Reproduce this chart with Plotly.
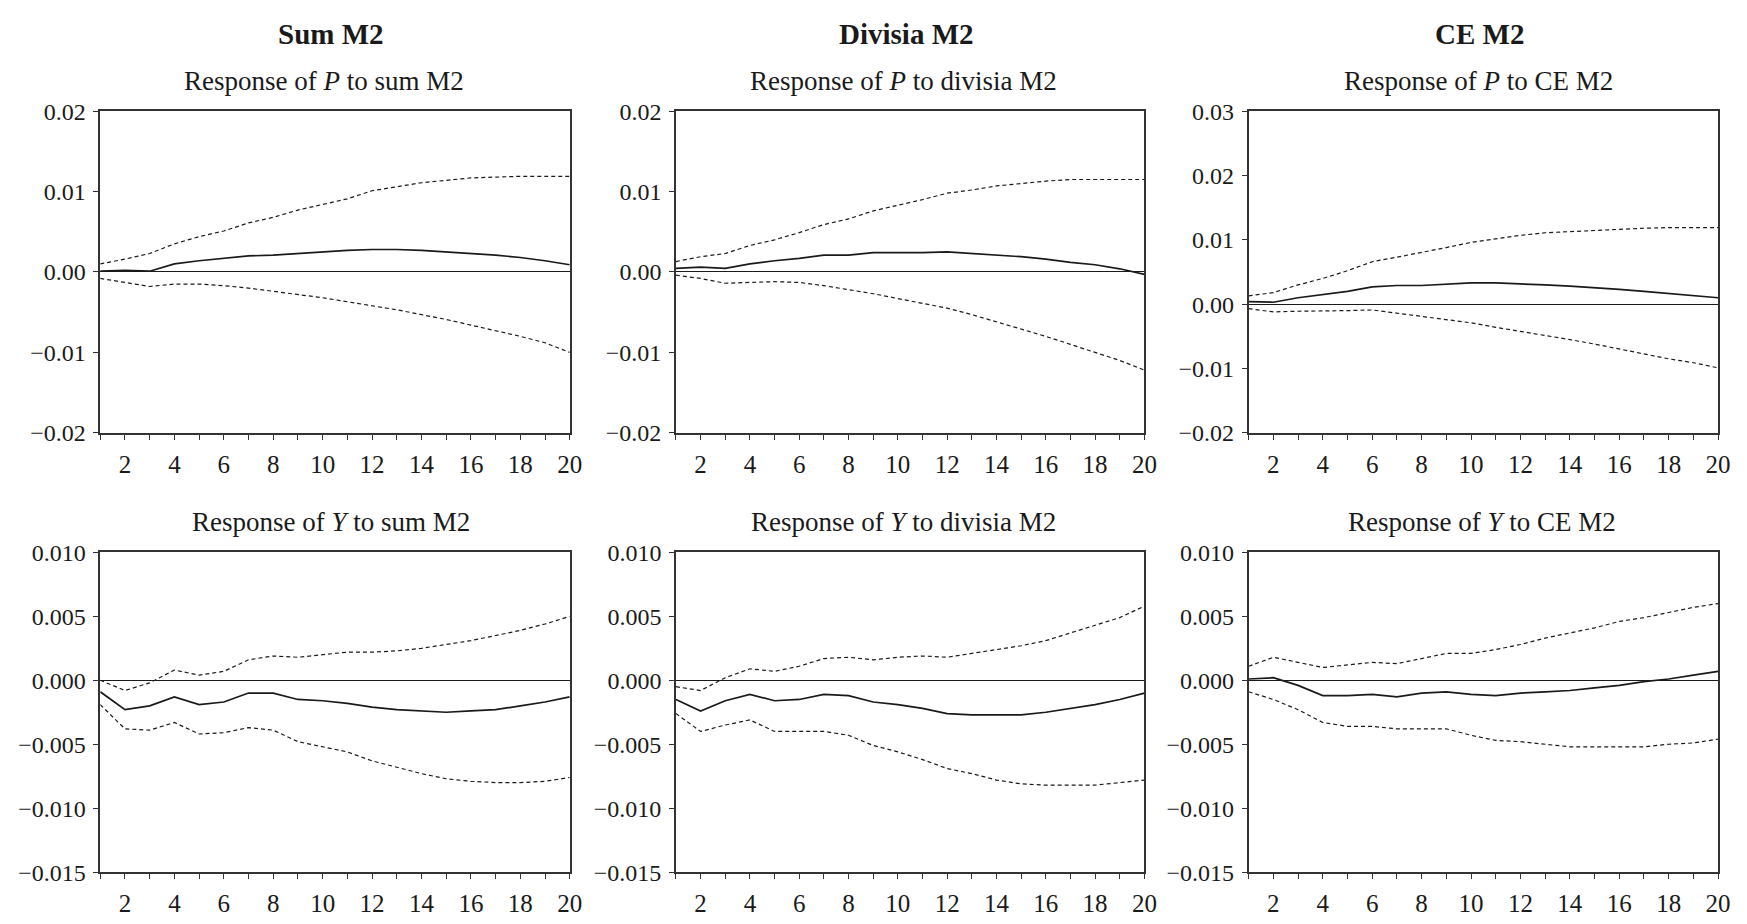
import plotly.graph_objects as go

# Forecast horizon (quarters)
horizon = list(range(1, 21))

# Impulse responses (solid) with upper / lower confidence bands (dashed)
sum_p_irf = [0.0001, 0.0002, 0.0001, 0.0010, 0.0014, 0.0017, 0.0020, 0.0021, 0.0023, 0.0025,
             0.0027, 0.0028, 0.0028, 0.0027, 0.0025, 0.0023, 0.0021, 0.0018, 0.0014, 0.0009]
sum_p_hi = [0.0010, 0.0016, 0.0023, 0.0035, 0.0044, 0.0051, 0.0061, 0.0068, 0.0077, 0.0084,
            0.0091, 0.0101, 0.0106, 0.0111, 0.0114, 0.0117, 0.0118, 0.0119, 0.0119, 0.0119]
sum_p_lo = [-0.0008, -0.0013, -0.0018, -0.0015, -0.0015, -0.0017, -0.0020, -0.0024, -0.0028, -0.0032,
            -0.0037, -0.0042, -0.0047, -0.0053, -0.0059, -0.0066, -0.0073, -0.0080, -0.0088, -0.0100]

sum_y_irf = [-0.0009, -0.0023, -0.0020, -0.0013, -0.0019, -0.0017, -0.0010, -0.0010, -0.0015, -0.0016,
             -0.0018, -0.0021, -0.0023, -0.0024, -0.0025, -0.0024, -0.0023, -0.0020, -0.0017, -0.0013]
sum_y_hi = [0.0000, -0.0008, -0.0002, 0.0008, 0.0004, 0.0007, 0.0016, 0.0019, 0.0018, 0.0020,
            0.0022, 0.0022, 0.0023, 0.0025, 0.0028, 0.0031, 0.0035, 0.0039, 0.0044, 0.0050]
sum_y_lo = [-0.0019, -0.0038, -0.0039, -0.0033, -0.0042, -0.0041, -0.0037, -0.0039, -0.0048, -0.0052,
            -0.0056, -0.0063, -0.0068, -0.0073, -0.0077, -0.0079, -0.0080, -0.0080, -0.0079, -0.0076]

div_p_irf = [0.00045, 0.0006, 0.00045, 0.0010, 0.0014, 0.0017, 0.0021, 0.0021, 0.0024, 0.0024,
             0.0024, 0.0025, 0.0023, 0.0021, 0.0019, 0.0016, 0.0012, 0.0009, 0.0004, -0.0003]
div_p_hi = [0.0013, 0.0019, 0.0023, 0.0033, 0.0040, 0.0049, 0.0059, 0.0066, 0.0076, 0.0083,
            0.0090, 0.0098, 0.0102, 0.0107, 0.0110, 0.0113, 0.0115, 0.0115, 0.0115, 0.0115]
div_p_lo = [-0.0004, -0.0008, -0.0014, -0.0013, -0.0012, -0.0013, -0.0017, -0.0022, -0.0027, -0.0033,
            -0.0039, -0.0045, -0.0053, -0.0062, -0.0071, -0.0080, -0.0090, -0.0100, -0.0110, -0.0122]

div_y_irf = [-0.0015, -0.0024, -0.0016, -0.0011, -0.0016, -0.0015, -0.0011, -0.0012, -0.0017, -0.0019,
             -0.0022, -0.0026, -0.0027, -0.0027, -0.0027, -0.0025, -0.0022, -0.0019, -0.0015, -0.0010]
div_y_hi = [-0.0005, -0.0008, 0.0002, 0.0009, 0.0007, 0.0011, 0.0017, 0.0018, 0.0016, 0.0018,
            0.0019, 0.0018, 0.0021, 0.0024, 0.0027, 0.0031, 0.0037, 0.0043, 0.0049, 0.0058]
div_y_lo = [-0.0026, -0.0040, -0.0035, -0.0031, -0.0040, -0.0040, -0.0040, -0.0043, -0.0051, -0.0056,
            -0.0062, -0.0069, -0.0073, -0.0078, -0.0081, -0.0082, -0.0082, -0.0082, -0.0080, -0.0078]

ce_p_irf = [0.0004, 0.0003, 0.0010, 0.0015, 0.0020, 0.0027, 0.0029, 0.0029, 0.0031, 0.0033,
            0.0033, 0.0032, 0.0030, 0.0028, 0.0026, 0.0023, 0.0020, 0.0017, 0.0014, 0.0010]
ce_p_hi = [0.0013, 0.0018, 0.0030, 0.0040, 0.0052, 0.0066, 0.0073, 0.0080, 0.0088, 0.0096,
           0.0102, 0.0107, 0.0111, 0.0113, 0.0115, 0.0117, 0.0118, 0.0119, 0.0119, 0.0119]
ce_p_lo = [-0.0007, -0.0012, -0.0011, -0.0011, -0.0010, -0.0009, -0.0014, -0.0020, -0.0024, -0.0029,
           -0.0036, -0.0042, -0.0049, -0.0055, -0.0062, -0.0070, -0.0078, -0.0085, -0.0091, -0.0099]

ce_y_irf = [0.0001, 0.0002, -0.0004, -0.0012, -0.0012, -0.0011, -0.0013, -0.0010, -0.0009, -0.0011,
            -0.0012, -0.0010, -0.0009, -0.0008, -0.0006, -0.0004, -0.0001, 0.0001, 0.0004, 0.0007]
ce_y_hi = [0.0011, 0.0018, 0.0014, 0.0010, 0.0012, 0.0014, 0.0013, 0.0017, 0.0021, 0.0021,
           0.0024, 0.0028, 0.0033, 0.0037, 0.0041, 0.0046, 0.0049, 0.0053, 0.0057, 0.0060]
ce_y_lo = [-0.0009, -0.0015, -0.0023, -0.0033, -0.0036, -0.0036, -0.0038, -0.0038, -0.0038, -0.0043,
           -0.0047, -0.0048, -0.0050, -0.0052, -0.0052, -0.0052, -0.0052, -0.0050, -0.0049, -0.0046]

# Column headers and panel titles
column_titles = ["Sum M2", "Divisia M2", "CE M2"]
panel_titles = [
    "Response of <i>P</i> to sum M2", "Response of <i>P</i> to divisia M2", "Response of <i>P</i> to CE M2",
    "Response of <i>Y</i> to sum M2", "Response of <i>Y</i> to divisia M2", "Response of <i>Y</i> to CE M2",
]

# Tick labels
x_tick_vals = horizon
x_tick_text = [str(h) if h % 2 == 0 else "" for h in horizon]
p_tick_vals = [-0.02, -0.01, 0.0, 0.01, 0.02]
p_tick_text = ["\u22120.02", "\u22120.01", "0.00", "0.01", "0.02"]
ce_p_tick_vals = [-0.02, -0.01, 0.0, 0.01, 0.02, 0.03]
ce_p_tick_text = ["\u22120.02", "\u22120.01", "0.00", "0.01", "0.02", "0.03"]
y_tick_vals = [-0.015, -0.010, -0.005, 0.0, 0.005, 0.010]
y_tick_text = ["\u22120.015", "\u22120.010", "\u22120.005", "0.000", "0.005", "0.010"]

panels = [
    (sum_p_irf, sum_p_hi, sum_p_lo, [-0.02, 0.02], p_tick_vals, p_tick_text),
    (div_p_irf, div_p_hi, div_p_lo, [-0.02, 0.02], p_tick_vals, p_tick_text),
    (ce_p_irf, ce_p_hi, ce_p_lo, [-0.02, 0.03], ce_p_tick_vals, ce_p_tick_text),
    (sum_y_irf, sum_y_hi, sum_y_lo, [-0.015, 0.010], y_tick_vals, y_tick_text),
    (div_y_irf, div_y_hi, div_y_lo, [-0.015, 0.010], y_tick_vals, y_tick_text),
    (ce_y_irf, ce_y_hi, ce_y_lo, [-0.015, 0.010], y_tick_vals, y_tick_text),
]

W, H = 1747, 924
FONT = "Liberation Serif, Times New Roman, serif"
INK = "#1a1a1a"
FRAME = "#333333"

# Plot-area boxes in pixels: (left, right) per column, (top, bottom) per row
col_px = [(101, 574), (681, 1153), (1258, 1731)]
row_px = [(101, 432), (555, 884)]
# Horizontal nudges of the panel titles relative to the plot centre
title_shift = [-11, -7, -5, -4, -7, -1]

fig = go.Figure()
layout = dict(
    width=W, height=H,
    margin=dict(l=0, r=0, t=0, b=0),
    paper_bgcolor="white", plot_bgcolor="white",
    showlegend=False,
    font=dict(family=FONT, color=INK),
)
annotations = []

for i, (irf, hi, lo, yrange, tv, tt) in enumerate(panels):
    r, c = divmod(i, 3)
    n = i + 1
    xa = "x" if n == 1 else f"x{n}"
    ya = "y" if n == 1 else f"y{n}"
    xl, xr = col_px[c]
    yt, yb = row_px[r]

    for series, dash, width in ((hi, "4px,3px", 1.2), (lo, "4px,3px", 1.2), (irf, "solid", 1.7)):
        fig.add_trace(go.Scatter(
            x=horizon, y=series, mode="lines", xaxis=xa, yaxis=ya,
            line=dict(color=INK, width=width, dash=dash),
            hoverinfo="skip",
        ))

    axis_common = dict(
        showline=True, mirror=True, linecolor=FRAME, linewidth=1.5,
        ticks="outside", ticklen=5, tickwidth=1.2, tickcolor=FRAME,
        showgrid=False,
    )
    layout["xaxis" if n == 1 else f"xaxis{n}"] = dict(
        axis_common,
        domain=[xl / W, xr / W], anchor=ya, range=[1, 20],
        tickmode="array", tickvals=x_tick_vals, ticktext=x_tick_text,
        tickfont=dict(family=FONT, size=25, color=INK),
        ticklabelstandoff=3,
        zeroline=False,
    )
    layout["yaxis" if n == 1 else f"yaxis{n}"] = dict(
        axis_common,
        domain=[1 - yb / H, 1 - yt / H], anchor=xa, range=yrange,
        tickmode="array", tickvals=tv, ticktext=tt,
        tickfont=dict(family=FONT, size=24, color=INK),
        ticklabelstandoff=3,
        zeroline=True, zerolinecolor=INK, zerolinewidth=1.4,
    )

    # Panel title above each plot
    cx = (xl + xr) / 2 + title_shift[i]
    annotations.append(dict(
        text=panel_titles[i], xref="paper", yref="paper",
        x=cx / W, y=1 - (yt - 31) / H, xanchor="center", yanchor="middle",
        showarrow=False, font=dict(family=FONT, size=27, color=INK),
    ))

# Bold column headers
for c, title in enumerate(column_titles):
    xl, xr = col_px[c]
    annotations.append(dict(
        text=f"<b>{title}</b>", xref="paper", yref="paper",
        x=((xl + xr) / 2 - 4) / W, y=1 - 22 / H, xanchor="center", yanchor="middle",
        showarrow=False, font=dict(family=FONT, size=29, color=INK),
    ))

layout["annotations"] = annotations
fig.update_layout(**layout)

# Keep the figure flush with the page corner (no default body margin, no scrollbars)
page_reset = (
    "document.body.style.margin='0';"
    "document.body.style.overflow='hidden';"
    "document.documentElement.style.overflow='hidden';"
)
fig.write_html("out.html", config={"displayModeBar": False}, post_script=page_reset)
